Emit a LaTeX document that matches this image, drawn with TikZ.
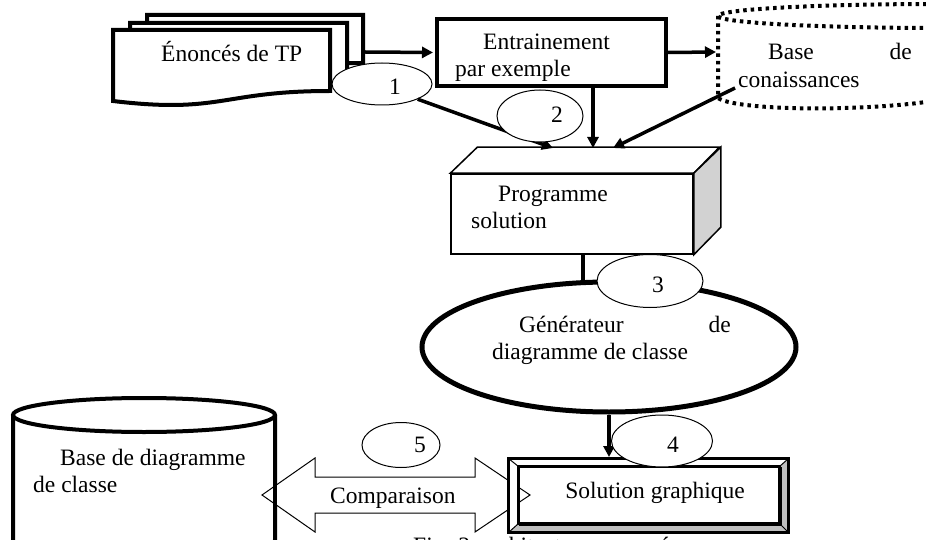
\documentclass[tikz,border=0pt]{standalone}
\usepackage{fontspec}
\setmainfont{Liberation Serif}
\usetikzlibrary{arrows.meta,shapes.geometric}

\tikzset{
  txt/.style={font=\fontsize{23.5}{27}\selectfont, inner sep=0pt, anchor=base west},
  txtr/.style={font=\fontsize{23.5}{27}\selectfont, inner sep=0pt, anchor=base east},
  num/.style={font=\fontsize{23.5}{27}\selectfont, inner sep=0pt, anchor=base},
  heavy/.style={line width=4pt},
  conn/.style={line width=3.5pt, -{Triangle[length=11pt,width=11pt]}},
  plain/.style={line width=3.5pt},
  tag/.style={ellipse, draw, line width=1pt, fill=white, inner sep=0pt},
  docshape/.style={draw, line width=4pt, fill=white, line join=miter},
  dotline/.style={line width=4pt, dash pattern=on 3.5pt off 4pt},
  thinbox/.style={draw, line width=1.5pt},
}

\begin{document}
\begin{tikzpicture}[x=1pt, y=-1pt]
\useasboundingbox (0,0) rectangle (926,540);
\clip (0,0) rectangle (926,540);

% knowledge base: dotted cylinder
\draw[dotline] (940,16) ellipse[x radius=222, y radius=12];
\draw[dotline] (718,16) -- (718,98) .. controls (735,110) and (850,112) .. (926,102);
\node[txt] (kb1) at (768,60) {Base};
\node[txtr] (kb2) at (912,60) {de};
\node[txt] (kb3) at (738,88) {conaissances};

% stacked documents
\path[docshape] (147,15) -- (363,15) -- (363,63) .. controls (255,63) and (255,81) .. (147,71) -- cycle;
\path[docshape] (130,23) -- (347,23) -- (347,83) .. controls (238.5,83) and (238.5,106) .. (130,93) -- cycle;
\path[docshape] (113,30) -- (330,30) -- (330,91) .. controls (221.5,91) and (221.5,114) .. (113,101) -- cycle;
\node[txt] (docs) at (161,62) {Énoncés de TP};
\coordinate (docsR) at (365,52);

% training box
\node[draw, heavy, minimum width=229pt, minimum height=67pt, inner sep=0pt] (train) at (551.5,52.5) {};
\begin{scope}
  \clip (439,21) rectangle (664,81);
  \node[txt] (train1) at (483,50) {Entrainement};
  \node[txt] (train2) at (455,77) {par exemple};
\end{scope}

% solution program (3D box)
\node[thinbox, minimum width=242pt, minimum height=80pt, inner sep=0pt] (prog) at (572,214) {};
\draw[line width=1.5pt, fill=white] (prog.north west) -- ++(27,-26) -- ++(242,0) -- (prog.north east) -- cycle;
\draw[line width=1.5pt, fill=gray!35] (prog.north east) -- ++(27,-26) -- ++(0,80) -- (prog.south east) -- cycle;
\node[txt] (prog1) at (498,202) {Programme};
\node[txt] (prog2) at (471,229) {solution};

% connection points
\coordinate (trainB) at (593,86);
\coordinate (kbIn) at (735,88);
\coordinate (kbL) at (716,52);
\coordinate (progT1) at (553,148);
\coordinate (progT2) at (593,148);
\coordinate (progT3) at (613,148);
\coordinate (progB) at (583,254);

% connectors in the upper part
\draw[conn, shorten >=2pt] (docsR) -- (train.west);
\draw[conn] (train.east) -- (kbL);
\draw[conn] (trainB) -- (progT2);
\draw[conn] (kbIn) -- (progT3);

% label ellipses 1 and 2 with their connector
\node[tag, minimum width=100pt, minimum height=42pt] (e1) at (382,84) {};
\draw[conn] (e1.south east) -- (progT1);
\node[tag, minimum width=86pt, minimum height=52pt] (e2) at (540,116) {};
\node[num] (n1) at (395,95) {1};
\node[num] (n2) at (557,123) {2};

% class diagram generator
\node[ellipse, draw, line width=5pt, minimum width=374pt, minimum height=130pt, inner sep=0pt] (gen) at (609,347) {};
\draw[plain] (progB) -- (progB |- gen.north);
\node[txt] (gen1) at (519,332) {Générateur};
\node[txtr] (gen2) at (731,332) {de};
\node[txt] (gen3) at (492,359) {diagramme de classe};
\node[tag, minimum width=106pt, minimum height=53pt] (e3) at (650,281) {};
\node[num] (n3) at (658,292) {3};

% class diagram base: cylinder (outline only)
\draw[heavy] (13,415) -- (13,540) arc[start angle=180, end angle=0, x radius=131, y radius=17] -- (275,415);
\draw[heavy] (144,415) ellipse[x radius=131, y radius=17];
\node[txt] (cdb1) at (60,465) {Base de diagramme};
\node[txt] (cdb2) at (33,492) {de classe};

% comparison double arrow
\coordinate (cmpL) at (262,495);
\coordinate (cmpR) at (530,495);
\draw[line width=1pt, fill=white] (cmpL) -- (315,458) -- (315,477) -- (475,477) -- (475,458) -- (cmpR)
  -- (475,532) -- (475,513) -- (315,513) -- (315,532) -- cycle;
\draw[heavy] (275,470) -- (275,520);
\node[txt] (cmp) at (330,503) {Comparaison};
\node[tag, minimum width=78pt, minimum height=45pt] (e5) at (401,445) {};
\node[num] (n5) at (420,452) {5};

% graphical solution (bevelled frame)
\coordinate (solT) at (609,457);
\draw[conn] (gen.south) -- (gen.south |- solT);
\fill[white] (508.5,458.5) -- (788.5,458.5) -- (779.5,466.5) -- (518.5,466.5) -- (518.5,523.5) -- (508.5,532.5) -- cycle;
\fill[gray!50] (788.5,458.5) -- (779.5,466.5) -- (779.5,523.5) -- (788.5,532.5) -- cycle;
\fill[gray!50] (508.5,532.5) -- (518.5,523.5) -- (779.5,523.5) -- (788.5,532.5) -- cycle;
\draw[line width=1pt] (508.5,458.5) -- (518.5,466.5) (788.5,458.5) -- (779.5,466.5)
  (788.5,532.5) -- (779.5,523.5) (508.5,532.5) -- (518.5,523.5);
\draw[line width=3pt] (508.5,458.5) rectangle (788.5,532.5);
\draw[line width=3pt] (518.5,466.5) rectangle (779.5,523.5);
\draw[line width=2pt] (518.5,524.5) -- (780.5,524.5) -- (780.5,466.5);
\node[num] (sol) at (655,498) {Solution graphique};
\node[tag, minimum width=101pt, minimum height=52pt] (e4) at (662,441) {};
\node[num] (n4) at (673,452) {4};

% caption below the figure
\node[txt] (cap1) at (413,553) {Fig. 2.};
\node[txt] (cap2) at (480,553) {architecture};
\node[txt] (cap3) at (595,553) {proposée};
\end{tikzpicture}
\end{document}
